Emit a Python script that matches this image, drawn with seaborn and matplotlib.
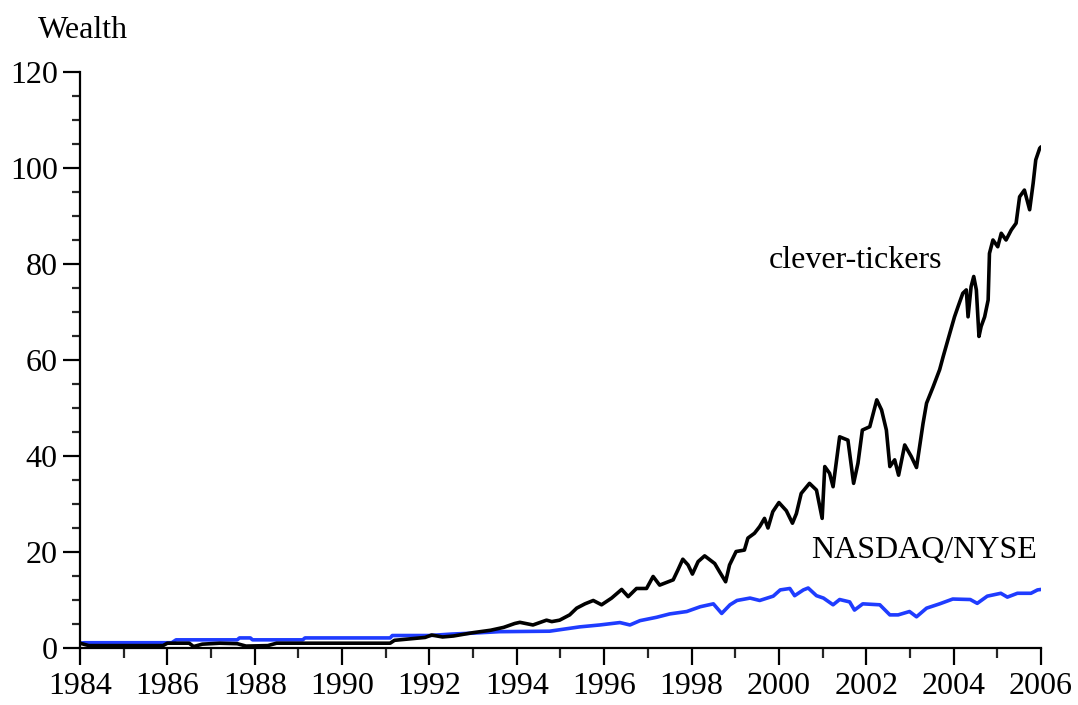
import matplotlib
matplotlib.use("Agg")
import matplotlib.pyplot as plt
import seaborn as sns
import pandas as pd
from matplotlib.ticker import MultipleLocator

# ---- data ----
clever_years = [1984.0, 1984.2, 1985.0, 1985.9, 1986.0, 1986.5, 1986.6, 1986.8, 1987.2, 1987.6,
                1987.8, 1988.3, 1988.5, 1991.1, 1991.2, 1991.9, 1992.05, 1992.3, 1992.55, 1993.0,
                1993.4, 1993.7, 1993.95, 1994.07, 1994.37, 1994.68, 1994.8, 1994.98, 1995.21, 1995.37,
                1995.56, 1995.75, 1995.94, 1996.17, 1996.40, 1996.55, 1996.74, 1996.97, 1997.12, 1997.27,
                1997.58, 1997.69, 1997.80, 1997.92, 1998.02, 1998.15, 1998.30, 1998.53, 1998.64, 1998.78,
                1998.87, 1999.02, 1999.21, 1999.29, 1999.44, 1999.56, 1999.67, 1999.75, 1999.86, 2000.00,
                2000.17, 2000.31, 2000.40, 2000.51, 2000.70, 2000.86, 2000.99, 2001.05, 2001.16, 2001.24,
                2001.39, 2001.58, 2001.71, 2001.81, 2001.91, 2002.08, 2002.24, 2002.35, 2002.46, 2002.54,
                2002.65, 2002.74, 2002.88, 2003.03, 2003.15, 2003.30, 2003.38, 2003.53, 2003.68, 2003.76,
                2003.91, 2004.02, 2004.10, 2004.21, 2004.29, 2004.33, 2004.40, 2004.46, 2004.52, 2004.58,
                2004.63, 2004.71, 2004.79, 2004.82, 2004.90, 2005.01, 2005.09, 2005.20, 2005.32, 2005.43,
                2005.51, 2005.62, 2005.74, 2005.82, 2005.88, 2005.97, 2006.0]
clever_values = [1.0, 0.5, 0.5, 0.5, 1.0, 1.0, 0.3, 0.8, 1.0, 0.9,
                 0.4, 0.5, 1.0, 1.0, 1.6, 2.2, 2.7, 2.3, 2.5, 3.2,
                 3.7, 4.3, 5.1, 5.35, 4.8, 5.8, 5.5, 5.8, 6.9, 8.3,
                 9.2, 9.9, 9.0, 10.4, 12.2, 10.7, 12.4, 12.4, 14.9, 13.1,
                 14.2, 16.3, 18.5, 17.3, 15.4, 18.0, 19.2, 17.6, 15.9, 13.8,
                 17.3, 20.1, 20.4, 22.9, 23.9, 25.3, 27.0, 25.0, 28.4, 30.3,
                 28.6, 26.0, 28.0, 32.2, 34.3, 32.9, 27.0, 37.8, 36.4, 33.6,
                 44.0, 43.3, 34.3, 38.5, 45.4, 46.1, 51.7, 49.6, 45.4, 37.8,
                 39.2, 36.0, 42.3, 39.9, 37.6, 46.8, 51.0, 54.4, 58.0, 60.7,
                 65.5, 69.0, 71.1, 73.9, 74.6, 69.0, 75.3, 77.4, 74.6, 64.9,
                 67.0, 69.0, 72.5, 82.2, 85.0, 83.6, 86.4, 85.0, 87.1, 88.5,
                 94.0, 95.4, 91.3, 96.8, 101.7, 104.1, 104.4]

index_years = [1984.0, 1984.1, 1986.1, 1986.2, 1987.6, 1987.65, 1987.9, 1987.95, 1989.1, 1989.15,
               1991.1, 1991.15, 1992.0, 1992.5, 1993.0, 1993.6, 1994.75, 1994.98, 1995.44, 1995.90,
               1996.36, 1996.59, 1996.82, 1997.20, 1997.50, 1997.89, 1998.20, 1998.50, 1998.69, 1998.88,
               1999.04, 1999.34, 1999.56, 1999.87, 2000.03, 2000.25, 2000.36, 2000.56, 2000.67, 2000.86,
               2001.02, 2001.24, 2001.39, 2001.62, 2001.73, 2001.92, 2002.31, 2002.54, 2002.73, 2002.99,
               2003.15, 2003.38, 2003.68, 2003.98, 2004.38, 2004.54, 2004.77, 2005.08, 2005.23, 2005.46,
               2005.77, 2005.92, 2006.0]
index_values = [1.0, 1.1, 1.1, 1.7, 1.7, 2.1, 2.1, 1.7, 1.7, 2.1,
                2.1, 2.6, 2.6, 2.9, 3.1, 3.4, 3.5, 3.8, 4.4, 4.8,
                5.3, 4.8, 5.7, 6.4, 7.1, 7.6, 8.6, 9.2, 7.2, 9.0,
                9.9, 10.4, 9.9, 10.8, 12.1, 12.4, 10.9, 12.1, 12.5, 10.9,
                10.4, 9.0, 10.1, 9.6, 7.9, 9.2, 9.0, 6.9, 6.9, 7.6,
                6.5, 8.3, 9.2, 10.2, 10.1, 9.3, 10.8, 11.4, 10.6, 11.4,
                11.4, 12.1, 12.2]

x_ticks = [1984, 1986, 1988, 1990, 1992, 1994, 1996, 1998, 2000, 2002, 2004, 2006]
y_ticks = [0, 20, 40, 60, 80, 100, 120]

series_labels = ["clever-tickers", "NASDAQ/NYSE"]

# ---- style ----
sns.set_style("ticks")
plt.rcParams["font.family"] = ["Liberation Serif", "DejaVu Serif"]

fig = plt.figure(figsize=(10.78, 7.05), dpi=100)
ax = fig.add_axes([80 / 1078, 1 - 648 / 705, (1041 - 80) / 1078, (648 - 72) / 705])

df_c = pd.DataFrame({"year": clever_years, "wealth": clever_values})
df_i = pd.DataFrame({"year": index_years, "wealth": index_values})

sns.lineplot(data=df_i, x="year", y="wealth", ax=ax, color="#1f3cff",
             linewidth=2.6, estimator=None, sort=False)
sns.lineplot(data=df_c, x="year", y="wealth", ax=ax, color="black",
             linewidth=2.6, estimator=None, sort=False)

ax.set_xlim(1984, 2006)
ax.set_ylim(0, 120)
ax.set_xticks(x_ticks)
ax.set_yticks(y_ticks)
ax.xaxis.set_minor_locator(MultipleLocator(1))
ax.yaxis.set_minor_locator(MultipleLocator(5))
ax.set_xticklabels([str(t) for t in x_ticks])
ax.set_yticklabels([str(t) for t in y_ticks])
ax.set_xlabel("")
ax.set_ylabel("")

for s in ["top", "right"]:
    ax.spines[s].set_visible(False)
for s in ["left", "bottom"]:
    ax.spines[s].set_linewidth(1.6)
    ax.spines[s].set_color("black")

ax.tick_params(axis="both", which="major", direction="out", length=12, width=1.6,
               labelsize=23, colors="black", pad=4)
ax.tick_params(axis="x", which="minor", direction="out", length=7, width=1.6)
ax.tick_params(axis="y", which="minor", direction="out", length=6, width=1.6)
ax.tick_params(axis="x", which="major", pad=5)

ax.text(2003.73, 80.8, series_labels[0], ha="right", va="center", fontsize=23, color="black")
ax.text(2005.9, 20.4, series_labels[1], ha="right", va="center", fontsize=23, color="black")

fig.text(38 / 1078, 1 - 30 / 705, "Wealth", ha="left", va="center", fontsize=23, color="black")

fig.savefig("out.png", dpi=100)
